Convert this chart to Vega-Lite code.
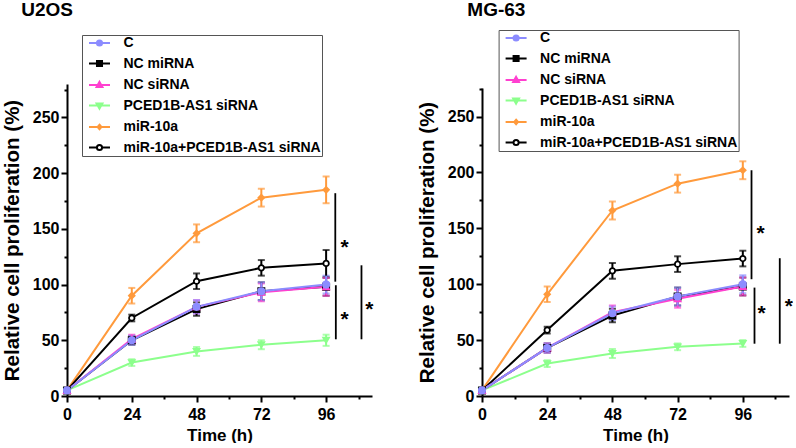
{
  "$schema": "https://vega.github.io/schema/vega-lite/v6.json",
  "background": "white",
  "padding": {"left": 2, "top": 0, "right": 0, "bottom": 0},
  "spacing": 43,
  "datasets": {
    "u2os": [
      {"g": "PCED1B-AS1 siRNA", "t": 0, "v": 5, "e": 0},
      {"g": "PCED1B-AS1 siRNA", "t": 24, "v": 30, "e": 3},
      {"g": "PCED1B-AS1 siRNA", "t": 48, "v": 40, "e": 4},
      {"g": "PCED1B-AS1 siRNA", "t": 72, "v": 46, "e": 4},
      {"g": "PCED1B-AS1 siRNA", "t": 96, "v": 50, "e": 5},
      {"g": "miR-10a", "t": 0, "v": 5, "e": 0},
      {"g": "miR-10a", "t": 24, "v": 90, "e": 7},
      {"g": "miR-10a", "t": 48, "v": 146, "e": 8},
      {"g": "miR-10a", "t": 72, "v": 178, "e": 8},
      {"g": "miR-10a", "t": 96, "v": 185, "e": 12},
      {"g": "miR-10a+PCED1B-AS1 siRNA", "t": 0, "v": 5, "e": 0},
      {"g": "miR-10a+PCED1B-AS1 siRNA", "t": 24, "v": 70, "e": 3},
      {"g": "miR-10a+PCED1B-AS1 siRNA", "t": 48, "v": 103, "e": 7},
      {"g": "miR-10a+PCED1B-AS1 siRNA", "t": 72, "v": 115, "e": 7},
      {"g": "miR-10a+PCED1B-AS1 siRNA", "t": 96, "v": 119, "e": 12},
      {"g": "NC miRNA", "t": 0, "v": 5, "e": 0},
      {"g": "NC miRNA", "t": 24, "v": 50, "e": 4},
      {"g": "NC miRNA", "t": 48, "v": 78, "e": 6},
      {"g": "NC miRNA", "t": 72, "v": 94, "e": 8},
      {"g": "NC miRNA", "t": 96, "v": 98, "e": 8},
      {"g": "NC siRNA", "t": 0, "v": 5, "e": 0},
      {"g": "NC siRNA", "t": 24, "v": 51, "e": 4},
      {"g": "NC siRNA", "t": 48, "v": 80, "e": 6},
      {"g": "NC siRNA", "t": 72, "v": 93, "e": 8},
      {"g": "NC siRNA", "t": 96, "v": 98, "e": 8},
      {"g": "C", "t": 0, "v": 5, "e": 0},
      {"g": "C", "t": 24, "v": 50, "e": 4},
      {"g": "C", "t": 48, "v": 80, "e": 6},
      {"g": "C", "t": 72, "v": 94, "e": 8},
      {"g": "C", "t": 96, "v": 100, "e": 8}
    ],
    "mg63": [
      {"g": "PCED1B-AS1 siRNA", "t": 0, "v": 5, "e": 0},
      {"g": "PCED1B-AS1 siRNA", "t": 24, "v": 29, "e": 3},
      {"g": "PCED1B-AS1 siRNA", "t": 48, "v": 38, "e": 4},
      {"g": "PCED1B-AS1 siRNA", "t": 72, "v": 44, "e": 3},
      {"g": "PCED1B-AS1 siRNA", "t": 96, "v": 47, "e": 3},
      {"g": "miR-10a", "t": 0, "v": 5, "e": 0},
      {"g": "miR-10a", "t": 24, "v": 91, "e": 7},
      {"g": "miR-10a", "t": 48, "v": 166, "e": 8},
      {"g": "miR-10a", "t": 72, "v": 190, "e": 8},
      {"g": "miR-10a", "t": 96, "v": 202, "e": 8},
      {"g": "miR-10a+PCED1B-AS1 siRNA", "t": 0, "v": 5, "e": 0},
      {"g": "miR-10a+PCED1B-AS1 siRNA", "t": 24, "v": 59, "e": 3},
      {"g": "miR-10a+PCED1B-AS1 siRNA", "t": 48, "v": 112, "e": 7},
      {"g": "miR-10a+PCED1B-AS1 siRNA", "t": 72, "v": 118, "e": 7},
      {"g": "miR-10a+PCED1B-AS1 siRNA", "t": 96, "v": 123, "e": 7},
      {"g": "NC miRNA", "t": 0, "v": 5, "e": 0},
      {"g": "NC miRNA", "t": 24, "v": 43, "e": 4},
      {"g": "NC miRNA", "t": 48, "v": 72, "e": 6},
      {"g": "NC miRNA", "t": 72, "v": 89, "e": 8},
      {"g": "NC miRNA", "t": 96, "v": 98, "e": 8},
      {"g": "NC siRNA", "t": 0, "v": 5, "e": 0},
      {"g": "NC siRNA", "t": 24, "v": 43, "e": 4},
      {"g": "NC siRNA", "t": 48, "v": 75, "e": 6},
      {"g": "NC siRNA", "t": 72, "v": 87, "e": 8},
      {"g": "NC siRNA", "t": 96, "v": 98, "e": 8},
      {"g": "C", "t": 0, "v": 5, "e": 0},
      {"g": "C", "t": 24, "v": 43, "e": 4},
      {"g": "C", "t": 48, "v": 74, "e": 6},
      {"g": "C", "t": 72, "v": 89, "e": 8},
      {"g": "C", "t": 96, "v": 100, "e": 8}
    ],
    "u2os_lines": [
      {"t": 99.4, "v": 182, "v2": 102.6},
      {"t": 99.6, "v": 99.4, "v2": 50.9},
      {"t": 109.1, "v": 117.3, "v2": 50.9}
    ],
    "u2os_stars": [
      {"t": 102.8, "v": 138, "s": "*"},
      {"t": 102.8, "v": 73.3, "s": "*"},
      {"t": 112, "v": 82.3, "s": "*"}
    ],
    "mg63_lines": [
      {"t": 99.2, "v": 202, "v2": 104.5},
      {"t": 100.3, "v": 97, "v2": 46.8},
      {"t": 109.6, "v": 123.3, "v2": 46.8}
    ],
    "mg63_stars": [
      {"t": 102.5, "v": 150.7, "s": "*"},
      {"t": 102.9, "v": 79, "s": "*"},
      {"t": 112.9, "v": 85, "s": "*"}
    ]
  },
  "hconcat": [
    {
      "title": {"text": "U2OS", "anchor": "start", "dx": 19, "offset": 15},
      "width": 305,
      "height": 312,
      "resolve": {"scale": {"shape": "independent", "fill": "independent", "stroke": "independent"}},
      "encoding": {
        "x": {"field": "t", "type": "quantitative", "scale": {"domain": [0, 113], "nice": false, "zero": false},
          "axis": {"title": "Time (h)", "values": [0, 12, 24, 36, 48, 60, 72, 84, 96, 108], "labelExpr": "datum.value % 24 === 0 ? datum.label : ''",
            "tickSize": {"condition": {"test": "datum.value % 24 !== 0", "value": 3}, "value": 6}}},
        "y": {"field": "v", "type": "quantitative", "scale": {"domain": [0, 280], "nice": false},
          "axis": {"title": "Relative cell proliferation (%)", "values": [0, 25, 50, 75, 100, 125, 150, 175, 200, 225, 250, 275], "labelExpr": "datum.value % 50 === 0 ? datum.label : ''",
            "tickSize": {"condition": {"test": "datum.value % 50 !== 0", "value": 3}, "value": 6}}}
      },
      "layer": [
        {
          "data": {"name": "u2os"},
          "mark": {"type": "line", "strokeWidth": 2},
          "encoding": {
            "color": {"field": "g", "type": "nominal", "legend": null,
              "scale": {"domain": ["C", "NC miRNA", "NC siRNA", "PCED1B-AS1 siRNA", "miR-10a", "miR-10a+PCED1B-AS1 siRNA"], "range": ["#8c8cff", "#000000", "#ff40d0", "#8cff8c", "#ff9a3c", "#000000"]}}
          }
        },
        {
          "data": {"name": "u2os"},
          "mark": {"type": "errorbar", "ticks": {"size": 7, "thickness": 2}, "rule": {"strokeWidth": 2}},
          "encoding": {
            "yError": {"field": "e"},
            "color": {"field": "g", "type": "nominal", "legend": null}
          }
        },
        {
          "data": {"name": "u2os"},
          "mark": {"type": "point", "filled": true, "strokeWidth": 1.8, "opacity": 1},
          "encoding": {
            "shape": {"field": "g", "type": "nominal", "legend": null,
              "scale": {"domain": ["C", "NC miRNA", "NC siRNA", "PCED1B-AS1 siRNA", "miR-10a", "miR-10a+PCED1B-AS1 siRNA"], "range": ["circle", "square", "triangle-up", "triangle-down", "diamond", "circle"]}},
            "fill": {"field": "g", "type": "nominal", "legend": null,
              "scale": {"domain": ["C", "NC miRNA", "NC siRNA", "PCED1B-AS1 siRNA", "miR-10a", "miR-10a+PCED1B-AS1 siRNA"], "range": ["#8c8cff", "#000000", "#ff40d0", "#8cff8c", "#ff9a3c", "#ffffff"]}},
            "stroke": {"field": "g", "type": "nominal", "legend": null,
              "scale": {"domain": ["C", "NC miRNA", "NC siRNA", "PCED1B-AS1 siRNA", "miR-10a", "miR-10a+PCED1B-AS1 siRNA"], "range": ["#8c8cff", "#000000", "#ff40d0", "#8cff8c", "#ff9a3c", "#000000"]}},
            "size": {"field": "g", "type": "nominal", "legend": null,
              "scale": {"domain": ["C", "NC miRNA", "NC siRNA", "PCED1B-AS1 siRNA", "miR-10a", "miR-10a+PCED1B-AS1 siRNA"], "range": [40, 30, 30, 25, 20, 45]}}
          }
        },
        {
          "data": {"name": "u2os"},
          "mark": {"type": "point", "opacity": 0},
          "encoding": {
            "shape": {"field": "g", "type": "nominal",
              "scale": {"domain": ["C", "NC miRNA", "NC siRNA", "PCED1B-AS1 siRNA", "miR-10a", "miR-10a+PCED1B-AS1 siRNA"],
                "range": ["M-1.75,0H1.75M0.43,0A0.43,0.43,0,1,1,-0.43,0A0.43,0.43,0,1,1,0.43,0Z", "M-1.75,0H1.75M-0.42,-0.42H0.42V0.42H-0.42Z", "M-1.75,0H1.75M0,-0.52L0.49,0.35L-0.49,0.35Z", "M-1.75,0H1.75M0,0.52L0.49,-0.35L-0.49,-0.35Z", "M-1.75,0H1.75M0,-0.38L0.32,0L0,0.38L-0.32,0Z", "M-1.75,0H-0.43M0.43,0H1.75M0.43,0A0.43,0.43,0,1,1,-0.43,0A0.43,0.43,0,1,1,0.43,0Z"]},
              "legend": {"orient": "none", "legendX": 15, "legendY": -49, "title": null, "symbolSize": 144, "symbolStrokeWidth": 2, "symbolOpacity": 1,
                "padding": 1, "rowPadding": 6.5, "symbolOffset": 9.5, "labelOffset": 17, "labelLimit": 400, "strokeColor": "#555555", "fillColor": "white",
                "labelExpr": "datum.label + '  '"}},
            "fill": {"field": "g", "type": "nominal",
              "scale": {"domain": ["C", "NC miRNA", "NC siRNA", "PCED1B-AS1 siRNA", "miR-10a", "miR-10a+PCED1B-AS1 siRNA"], "range": ["#8c8cff", "#000000", "#ff40d0", "#8cff8c", "#ff9a3c", "#ffffff"]}},
            "stroke": {"field": "g", "type": "nominal",
              "scale": {"domain": ["C", "NC miRNA", "NC siRNA", "PCED1B-AS1 siRNA", "miR-10a", "miR-10a+PCED1B-AS1 siRNA"], "range": ["#8c8cff", "#000000", "#ff40d0", "#8cff8c", "#ff9a3c", "#000000"]}}
          }
        },
        {
          "data": {"name": "u2os_lines"},
          "mark": {"type": "rule", "strokeWidth": 1.8, "color": "black"},
          "encoding": {"y2": {"field": "v2"}}
        },
        {
          "data": {"name": "u2os_stars"},
          "mark": {"type": "text", "fontSize": 21, "fontWeight": "bold", "baseline": "alphabetic", "dy": 12, "color": "black", "font": "Liberation Sans"},
          "encoding": {"text": {"field": "s"}}
        }
      ]
    },
    {
      "title": {"text": "MG-63", "anchor": "start", "dx": 50, "offset": 10},
      "width": 307,
      "height": 312,
      "resolve": {"scale": {"shape": "independent", "fill": "independent", "stroke": "independent"}},
      "encoding": {
        "x": {"field": "t", "type": "quantitative", "scale": {"domain": [0, 113], "nice": false, "zero": false},
          "axis": {"title": "Time (h)", "values": [0, 12, 24, 36, 48, 60, 72, 84, 96, 108], "labelExpr": "datum.value % 24 === 0 ? datum.label : ''",
            "tickSize": {"condition": {"test": "datum.value % 24 !== 0", "value": 3}, "value": 6}}},
        "y": {"field": "v", "type": "quantitative", "scale": {"domain": [0, 275.6], "range": [312, 4], "nice": false},
          "axis": {"title": "Relative cell proliferation (%)", "values": [0, 25, 50, 75, 100, 125, 150, 175, 200, 225, 250, 275], "labelExpr": "datum.value % 50 === 0 ? datum.label : ''",
            "tickSize": {"condition": {"test": "datum.value % 50 !== 0", "value": 3}, "value": 6}}}
      },
      "layer": [
        {
          "data": {"name": "mg63"},
          "mark": {"type": "line", "strokeWidth": 2},
          "encoding": {
            "color": {"field": "g", "type": "nominal", "legend": null,
              "scale": {"domain": ["C", "NC miRNA", "NC siRNA", "PCED1B-AS1 siRNA", "miR-10a", "miR-10a+PCED1B-AS1 siRNA"], "range": ["#8c8cff", "#000000", "#ff40d0", "#8cff8c", "#ff9a3c", "#000000"]}}
          }
        },
        {
          "data": {"name": "mg63"},
          "mark": {"type": "errorbar", "ticks": {"size": 7, "thickness": 2}, "rule": {"strokeWidth": 2}},
          "encoding": {
            "yError": {"field": "e"},
            "color": {"field": "g", "type": "nominal", "legend": null}
          }
        },
        {
          "data": {"name": "mg63"},
          "mark": {"type": "point", "filled": true, "strokeWidth": 1.8, "opacity": 1},
          "encoding": {
            "shape": {"field": "g", "type": "nominal", "legend": null,
              "scale": {"domain": ["C", "NC miRNA", "NC siRNA", "PCED1B-AS1 siRNA", "miR-10a", "miR-10a+PCED1B-AS1 siRNA"], "range": ["circle", "square", "triangle-up", "triangle-down", "diamond", "circle"]}},
            "fill": {"field": "g", "type": "nominal", "legend": null,
              "scale": {"domain": ["C", "NC miRNA", "NC siRNA", "PCED1B-AS1 siRNA", "miR-10a", "miR-10a+PCED1B-AS1 siRNA"], "range": ["#8c8cff", "#000000", "#ff40d0", "#8cff8c", "#ff9a3c", "#ffffff"]}},
            "stroke": {"field": "g", "type": "nominal", "legend": null,
              "scale": {"domain": ["C", "NC miRNA", "NC siRNA", "PCED1B-AS1 siRNA", "miR-10a", "miR-10a+PCED1B-AS1 siRNA"], "range": ["#8c8cff", "#000000", "#ff40d0", "#8cff8c", "#ff9a3c", "#000000"]}},
            "size": {"field": "g", "type": "nominal", "legend": null,
              "scale": {"domain": ["C", "NC miRNA", "NC siRNA", "PCED1B-AS1 siRNA", "miR-10a", "miR-10a+PCED1B-AS1 siRNA"], "range": [40, 30, 30, 25, 20, 45]}}
          }
        },
        {
          "data": {"name": "mg63"},
          "mark": {"type": "point", "opacity": 0},
          "encoding": {
            "shape": {"field": "g", "type": "nominal",
              "scale": {"domain": ["C", "NC miRNA", "NC siRNA", "PCED1B-AS1 siRNA", "miR-10a", "miR-10a+PCED1B-AS1 siRNA"],
                "range": ["M-1.75,0H1.75M0.43,0A0.43,0.43,0,1,1,-0.43,0A0.43,0.43,0,1,1,0.43,0Z", "M-1.75,0H1.75M-0.42,-0.42H0.42V0.42H-0.42Z", "M-1.75,0H1.75M0,-0.52L0.49,0.35L-0.49,0.35Z", "M-1.75,0H1.75M0,0.52L0.49,-0.35L-0.49,-0.35Z", "M-1.75,0H1.75M0,-0.38L0.32,0L0,0.38L-0.32,0Z", "M-1.75,0H-0.43M0.43,0H1.75M0.43,0A0.43,0.43,0,1,1,-0.43,0A0.43,0.43,0,1,1,0.43,0Z"]},
              "legend": {"orient": "none", "legendX": 16.6, "legendY": -54, "title": null, "symbolSize": 144, "symbolStrokeWidth": 2, "symbolOpacity": 1,
                "padding": 1, "rowPadding": 6.5, "symbolOffset": 9.5, "labelOffset": 17, "labelLimit": 400, "strokeColor": "#555555", "fillColor": "white",
                "labelExpr": "datum.label + '  '"}},
            "fill": {"field": "g", "type": "nominal",
              "scale": {"domain": ["C", "NC miRNA", "NC siRNA", "PCED1B-AS1 siRNA", "miR-10a", "miR-10a+PCED1B-AS1 siRNA"], "range": ["#8c8cff", "#000000", "#ff40d0", "#8cff8c", "#ff9a3c", "#ffffff"]}},
            "stroke": {"field": "g", "type": "nominal",
              "scale": {"domain": ["C", "NC miRNA", "NC siRNA", "PCED1B-AS1 siRNA", "miR-10a", "miR-10a+PCED1B-AS1 siRNA"], "range": ["#8c8cff", "#000000", "#ff40d0", "#8cff8c", "#ff9a3c", "#000000"]}}
          }
        },
        {
          "data": {"name": "mg63_lines"},
          "mark": {"type": "rule", "strokeWidth": 1.8, "color": "black"},
          "encoding": {"y2": {"field": "v2"}}
        },
        {
          "data": {"name": "mg63_stars"},
          "mark": {"type": "text", "fontSize": 21, "fontWeight": "bold", "baseline": "alphabetic", "dy": 12, "color": "black", "font": "Liberation Sans"},
          "encoding": {"text": {"field": "s"}}
        }
      ]
    }
  ],
  "config": {
    "view": {"stroke": null},
    "font": "Liberation Sans",
    "title": {"font": "Liberation Sans", "fontSize": 19, "fontWeight": "bold", "color": "black"},
    "axis": {"grid": false, "domainColor": "black", "domainWidth": 2, "tickColor": "black", "tickWidth": 2,
      "labelFont": "Liberation Sans", "labelFontWeight": "bold", "labelFontSize": 16, "labelColor": "black",
      "titleFont": "Liberation Sans", "titleFontWeight": "bold", "titleColor": "black"},
    "axisX": {"labelPadding": 4, "titleFontSize": 17, "titlePadding": 5, "labelFlush": false},
    "axisY": {"labelPadding": 2, "titleFontSize": 20.5, "titlePadding": 10},
    "legend": {"labelFont": "Liberation Sans", "labelFontWeight": "bold", "labelFontSize": 14, "labelColor": "black"}
  }
}
